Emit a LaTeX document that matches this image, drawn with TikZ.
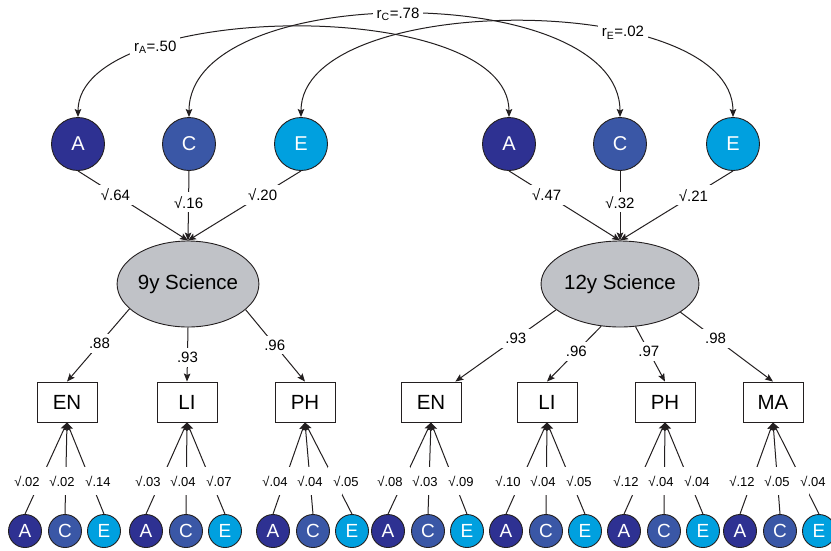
\documentclass[tikz,border=0pt]{standalone}
\usepackage{fontspec}
\setmainfont{Liberation Sans}
\usetikzlibrary{arrows.meta,shapes.geometric,positioning}

\definecolor{acol}{HTML}{2E3192}
\definecolor{ccol}{HTML}{3A57A6}
\definecolor{ecol}{HTML}{00A0DF}
\definecolor{latgray}{HTML}{C0C2C7}
\definecolor{ink}{HTML}{231F20}

\tikzset{
  >={Stealth[length=8pt,width=6.5pt,inset=1.5pt]},
  fac/.style={circle, draw=ink, line width=0.9pt, inner sep=0pt, minimum size=53pt, text=white, font=\fontsize{20}{24}\selectfont},
  sfac/.style={fac, minimum size=33pt, font=\fontsize{19}{22}\selectfont},
  lat/.style={ellipse, draw=ink, line width=0.9pt, fill=latgray, inner sep=0pt, minimum width=132pt, minimum height=86pt, font=\fontsize{20.5}{24}\selectfont},
  obs/.style={rectangle, draw=ink, line width=0.9pt, minimum width=60pt, minimum height=40pt, font=\fontsize{20.5}{24}\selectfont},
  conn/.style={draw=ink, line width=1pt, ->},
  corr/.style={draw=ink, line width=1pt, <->},
  wlbl/.style={fill=white, inner sep=4pt, text=black, font=\fontsize{15}{18}\selectfont},
  slbl/.style={inner sep=0pt, text=black, font=\fontsize{13}{16}\selectfont},
  lgap/.style={fill=white, inner sep=0pt, minimum width=14pt, minimum height=28pt},
}

\begin{document}
\begin{tikzpicture}[x=1pt, y=-1pt]
    \useasboundingbox (0,0) rectangle (831,550);
    \clip (0,0) rectangle (831,550);

    % ACE factors, 9 years
    \node[fac, fill=acol] (a9) at (78,144) {A};
    \node[fac, fill=ccol] (c9) at (189,144) {C};
    \node[fac, fill=ecol] (e9) at (301,144) {E};
    % ACE factors, 12 years
    \node[fac, fill=acol] (a12) at (509,144) {A};
    \node[fac, fill=ccol] (c12) at (620,144) {C};
    \node[fac, fill=ecol] (e12) at (733,144) {E};

    % Latent factors
    \node[lat] (sci9) at (188,284) {9y Science};
    \node[lat] (sci12) at (620,284) {12y Science};

    % Measured tests
    \node[obs] (en9) at (67,402) {EN};
    \node[obs] (li9) at (187,402) {LI};
    \node[obs] (ph9) at (305,402) {PH};
    \node[obs] (en12) at (431,402) {EN};
    \node[obs] (li12) at (547,402) {LI};
    \node[obs] (ph12) at (665,402) {PH};
    \node[obs] (ma12) at (773,402) {MA};

    % Correlations across ages
    \draw[corr] (a9.north) .. controls (78,0) and (509,-5) .. node[wlbl, pos=0.27] (ra) {r\textsubscript{A}=.50} (a12.north);
    \draw[corr] (c9.north) .. controls (189,-20) and (620,-20) .. node[wlbl, pos=0.49] (rc) {r\textsubscript{C}=.78} (c12.north);
    \draw[corr] (e9.north) .. controls (301,-10) and (733,-10) .. node[wlbl, pos=0.67] (re) {r\textsubscript{E}=.02} (e12.north);

    % Paths into the latent factors
    \draw[conn] (a9.south) -- node[wlbl, pos=0.34] (pa9) {√.64} (sci9.north);
    \draw[conn] (c9.south) -- node[wlbl, pos=0.45] (pc9) {√.16} (sci9.north);
    \draw[conn] (e9.south) -- node[wlbl, pos=0.34] (pe9) {√.20} (sci9.north);
    \draw[conn] (a12.south) -- node[wlbl, pos=0.34] (pa12) {√.47} (sci12.north);
    \draw[conn] (c12.south) -- node[wlbl, pos=0.45] (pc12) {√.32} (sci12.north);
    \draw[conn] (e12.south) -- node[wlbl, pos=0.35] (pe12) {√.21} (sci12.north);

    % Loadings
    \draw[conn] (sci9.203) -- node[wlbl, pos=0.48] (ld1) {.88} (en9.north);
    \draw[conn] (sci9.south) -- node[wlbl, pos=0.55] (ld2) {.93} (li9.north);
    \draw[conn] (sci9.336) -- node[wlbl, pos=0.49] (ld3) {.96} (ph9.north);
    \draw[conn] (sci12.202) -- node[wlbl, pos=0.40] (ld4) {.93} (en12.40);
    \draw[conn] (sci12.246) -- node[wlbl, pos=0.46] (ld5) {.96} (li12.north);
    \draw[conn] (sci12.290) -- node[wlbl, pos=0.45] (ld6) {.97} (ph12.north);
    \draw[conn] (sci12.335) -- node[wlbl, pos=0.38] (ld7) {.98} (ma12.north);

    % Test-specific ACE factors
    \foreach \b/\x/\va/\vc/\ve in {en9/25/.02/.02/.14, li9/146/.03/.04/.07, ph9/273/.04/.04/.05, en12/388/.08/.03/.09, li12/506/.10/.04/.05, ph12/624/.12/.04/.04, ma12/740/.12/.05/.04}{
        \node[sfac, fill=acol] (\b-a) at (\x,531) {A};
        \node[sfac, fill=ccol] (\b-c) at (\x+40,531) {C};
        \node[sfac, fill=ecol] (\b-e) at (\x+79,531) {E};
        \draw[conn] (\b-a.north) -- node[lgap, pos=0.36] (\b-ga) {} (\b.south);
        \draw[conn] (\b-c.north) -- node[lgap, pos=0.36] (\b-gc) {} (\b.south);
        \draw[conn] (\b-e.north) -- node[lgap, pos=0.36] (\b-ge) {} (\b.south);
        \node[slbl] (\b-la) at (\x+2,481) {√\va};
        \node[slbl] (\b-lc) at (\x+37,481) {√\vc};
        \node[slbl] (\b-le) at (\x+73,481) {√\ve};
    }
\end{tikzpicture}
\end{document}
